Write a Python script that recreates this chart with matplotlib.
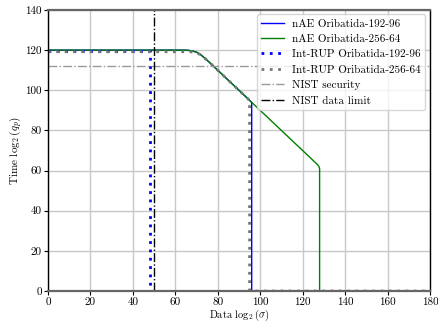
import matplotlib
matplotlib.use("Agg")
import matplotlib.pyplot as plt
from matplotlib.ticker import FuncFormatter

plt.rcParams["font.family"] = "cmr10"
plt.rcParams["mathtext.fontset"] = "cm"
plt.rcParams["axes.formatter.use_mathtext"] = True

# nAE Oribatida-192-96
nae192_x = [0, 64, 66, 68, 70, 72, 74, 76, 80, 90, 96, 96, 180]
nae192_y = [120, 120, 119.9, 119.6, 119, 117.7, 115.9, 114, 110, 100, 94, 0, 0]

# nAE Oribatida-256-64
nae256_x = [0, 64, 66, 68, 70, 72, 74, 76, 80, 90, 100, 110, 120, 124, 126, 127, 127.7, 128, 128, 180]
nae256_y = [120, 120, 119.9, 119.6, 119, 117.7, 115.9, 114, 110, 100, 90, 80, 70, 66, 64, 63, 62, 61, 0, 0]

# Int-RUP Oribatida-192-96
rup192_x = [0, 48, 48, 180]
rup192_y = [119.5, 119.5, 0, 0]

# Int-RUP Oribatida-256-64
rup256_x = [0, 66, 68, 70, 72, 74, 76, 80, 90, 95, 95, 180]
rup256_y = [119.2, 119.2, 119.1, 118.8, 117.6, 115.9, 114, 110, 100, 95, 0, 0]

nist_security = 112
nist_data_limit = 50

fig = plt.figure(figsize=(4.38, 3.23), dpi=100)
ax = fig.add_axes([0.1096, 0.099, 0.872, 0.87])

ax.plot(nae192_x, nae192_y, color="blue", lw=1, label="nAE Oribatida-192-96")
ax.plot(nae256_x, nae256_y, color="green", lw=1, label="nAE Oribatida-256-64")
ax.plot(rup192_x, rup192_y, color="blue", lw=2, ls=(0, (1, 2)), label="Int-RUP Oribatida-192-96")
ax.plot(rup256_x, rup256_y, color="#777777", lw=2, ls=(0, (1, 2)), label="Int-RUP Oribatida-256-64")
ax.axhline(nist_security, color="#999999", lw=1, ls="-.", label="NIST security")
ax.axvline(nist_data_limit, color="black", lw=1, ls="-.", label="NIST data limit")

ax.set_xlim(0, 180)
ax.set_ylim(0, 140)
ax.set_xticks(range(0, 181, 20))
ax.set_yticks(range(0, 141, 20))
fmt = FuncFormatter(lambda v, p: f"{v:g}")
ax.xaxis.set_major_formatter(fmt)
ax.yaxis.set_major_formatter(fmt)
ax.tick_params(labelsize=8, length=3, pad=1.5)
ax.grid(True, color="#c8c8c8", lw=1)
ax.set_axisbelow(True)

for s in ["top", "bottom"]:
    ax.spines[s].set_color("#666666")
    ax.spines[s].set_linewidth(1.6)
for s in ["left", "right"]:
    ax.spines[s].set_color("black")
    ax.spines[s].set_linewidth(1)

ax.set_xlabel(r"Data $\log_2(\sigma)$", fontsize=7.5)
ax.xaxis.set_label_coords(0.5, -0.058)
ax.set_ylabel(r"Time $\log_2(q_p)$", fontsize=8, labelpad=1)
ax.legend(loc="upper right", fontsize=8, handlelength=2.0, borderaxespad=0.4)

fig.savefig("out.png", dpi=100)
